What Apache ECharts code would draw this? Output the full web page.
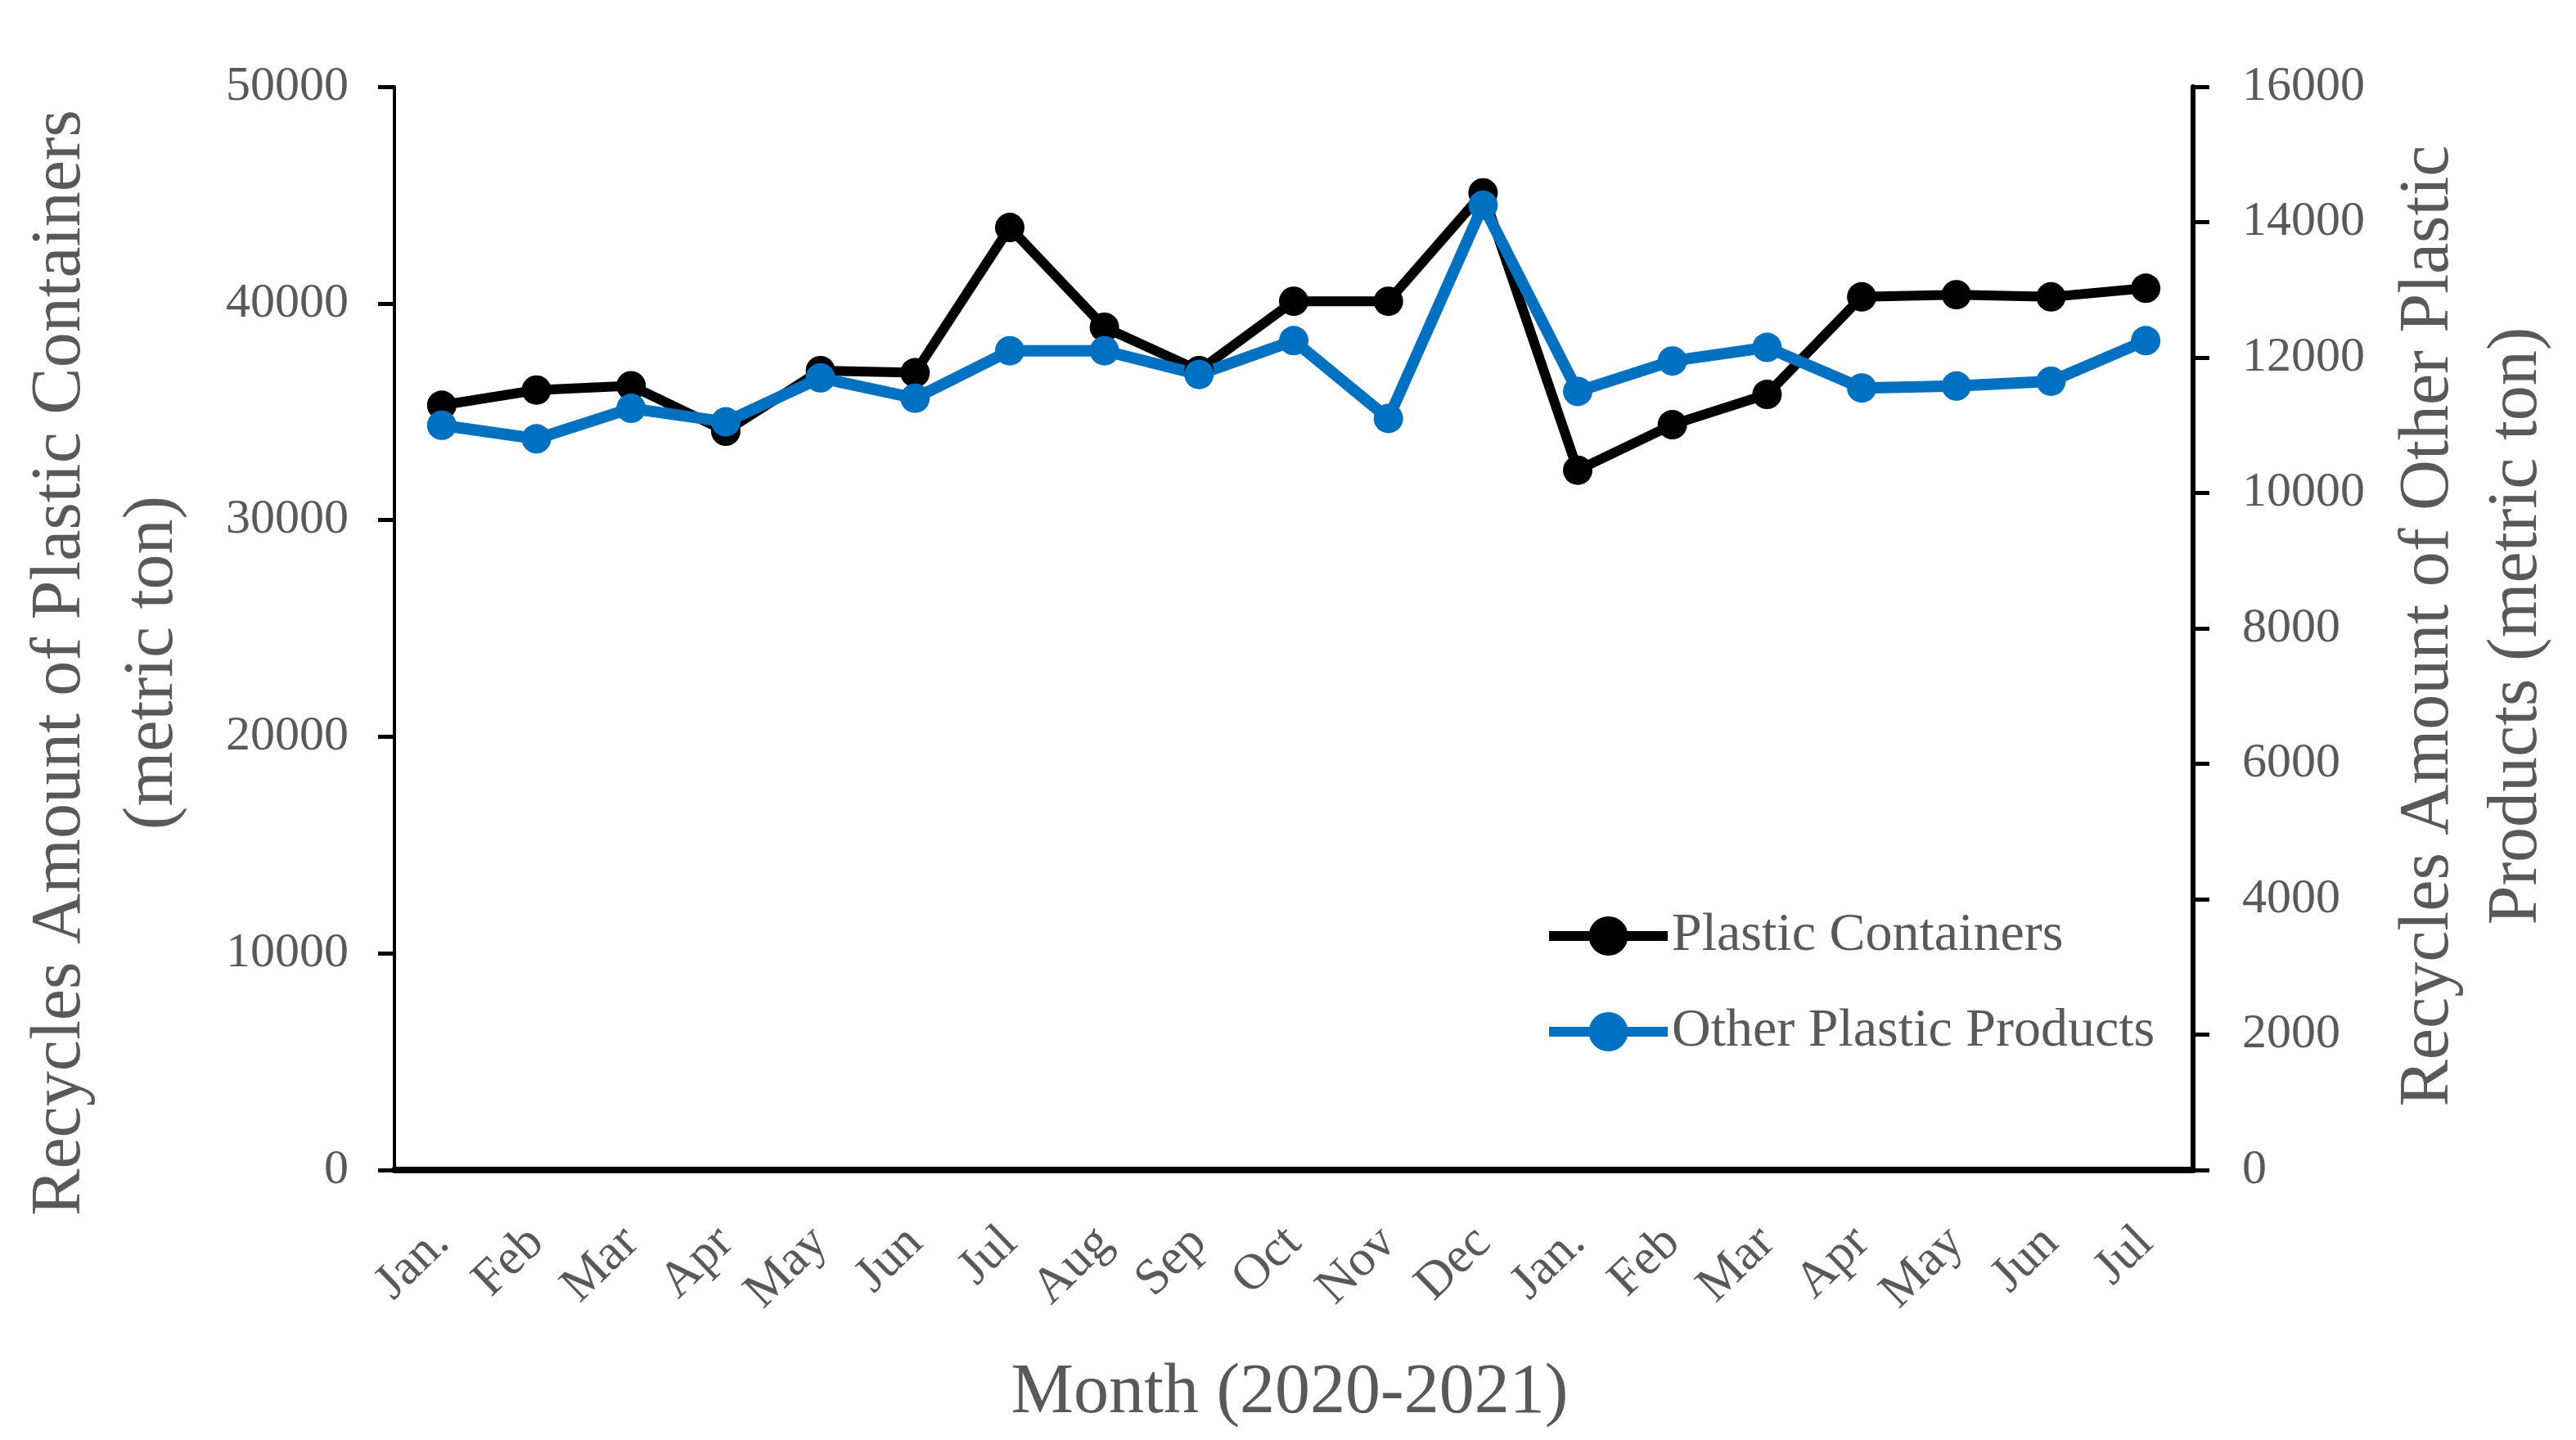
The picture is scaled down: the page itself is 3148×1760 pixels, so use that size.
<!DOCTYPE html>
<html>
<head>
<meta charset="utf-8">
<script src="https://cdn.jsdelivr.net/npm/echarts@6/dist/echarts.min.js"></script>
<style>
html,body{margin:0;padding:0;background:#fff;}
#chart{width:3148px;height:1760px;}
</style>
</head>
<body>
<div id="chart"></div>
<script>
const months = ['Jan.','Feb','Mar','Apr','May','Jun','Jul','Aug','Sep','Oct','Nov','Dec','Jan.','Feb','Mar','Apr','May','Jun','Jul'];
const plasticContainers = [35300,36000,36200,34100,36900,36800,43500,38900,36900,40100,40100,45100,32300,34400,35800,40300,40400,40300,40700];
const otherPlastic = [11000,10800,11250,11050,11700,11400,12100,12100,11750,12250,11100,14250,11500,11950,12150,11550,11580,11650,12250];
const leftTitle = ['Recycles Amount of Plastic Containers','(metric ton)'];
const rightTitle = ['Recycles Amount of Other Plastic','Products (metric ton)'];
const xTitle = 'Month (2020-2021)';

const gray = '#595959';
const serif = 'Liberation Serif';
const chart = echarts.init(document.getElementById('chart'));

function titleText(text, x, y, rot) {
  return {
    type: 'text', x: x, y: y, rotation: rot,
    style: { text: text, font: '86px "Liberation Serif"', fill: gray, align: 'center', verticalAlign: 'middle' }
  };
}
const plain = v => String(v);

chart.setOption({
  animation: false,
  backgroundColor: '#fff',
  grid: { left: 482, right: 468, top: 106, bottom: 330, containLabel: false },
  legend: {
    orient: 'vertical', left: 1882, top: 1104, itemGap: 47,
    itemWidth: 145, itemHeight: 60,
    lineStyle: { width: 12 },
    textStyle: { fontFamily: serif, fontSize: 66, color: gray, lineHeight: 70 },
    data: ['Plastic Containers','Other Plastic Products']
  },
  xAxis: {
    type: 'category', data: months, boundaryGap: true,
    axisLine: { lineStyle: { color: '#000', width: 8 } },
    axisTick: { alignWithLabel: true, length: 18, lineStyle: { color: '#000', width: 5 } },
    axisLabel: { rotate: 44, interval: 0, margin: 80, fontFamily: serif, fontSize: 62, color: gray },
    splitLine: { show: false }
  },
  yAxis: [
    {
      type: 'value', min: 0, max: 50000, interval: 10000, position: 'left',
      axisLine: { show: true, lineStyle: { color: '#000', width: 4 } },
      axisTick: { show: true, length: 20, lineStyle: { color: '#000', width: 5 } },
      axisLabel: { margin: 56, fontFamily: serif, fontSize: 60, color: gray, formatter: plain },
      splitLine: { show: false }
    },
    {
      type: 'value', min: 0, max: 16000, interval: 2000, position: 'right',
      axisLine: { show: true, lineStyle: { color: '#000', width: 6 } },
      axisTick: { show: true, length: 20, lineStyle: { color: '#000', width: 5 } },
      axisLabel: { margin: 60, fontFamily: serif, fontSize: 60, color: gray, formatter: plain },
      splitLine: { show: false }
    }
  ],
  series: [
    {
      name: 'Plastic Containers', type: 'line', yAxisIndex: 0, data: plasticContainers,
      symbol: 'circle', symbolSize: 36,
      lineStyle: { color: '#000', width: 12 }, itemStyle: { color: '#000' }
    },
    {
      name: 'Other Plastic Products', type: 'line', yAxisIndex: 1, data: otherPlastic,
      symbol: 'circle', symbolSize: 36,
      lineStyle: { color: '#0070C0', width: 14 }, itemStyle: { color: '#0070C0' }
    }
  ],
  graphic: [
    titleText(leftTitle[0], 74, 810, Math.PI / 2),
    titleText(leftTitle[1], 187, 810, Math.PI / 2),
    titleText(rightTitle[0], 2968, 765, Math.PI / 2),
    titleText(rightTitle[1], 3076, 765, Math.PI / 2),
    titleText(xTitle, 1576, 1703, 0)
  ]
});
</script>
</body>
</html>
